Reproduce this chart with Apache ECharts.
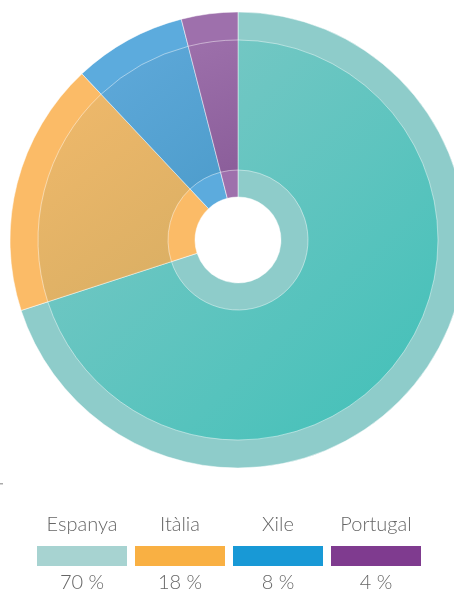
<!DOCTYPE html>
<html>
<head>
<meta charset="utf-8">
<script src="https://cdn.jsdelivr.net/npm/echarts@6/dist/echarts.min.js"></script>
<style>
  html, body { margin: 0; padding: 0; background: #fff; }
  #chart { width: 454px; height: 592px; }
</style>
</head>
<body>
<div id="chart"></div>
<script>
// dades
var categories = ['Espanya', 'Itàlia', 'Xile', 'Portugal'];
var values = [70, 18, 8, 4];
var pctLabels = ['70 %', '18 %', '8 %', '4 %'];

// colors
var ringColors = ['#8ECCCA', '#FBBB67', '#5CABDD', '#9E70AC'];
var gradTop = ['#82C9C7', '#F0B96B', '#5FA9DA', '#9D70AB'];
var gradBottom = ['#40C0B8', '#D8AE63', '#4E9DCC', '#8B5E9A'];
var legendColors = ['#A7D3D1', '#F9B043', '#1899D6', '#7F3B8F'];

var chart = echarts.init(document.getElementById('chart'), null, { renderer: 'canvas' });

var ringData = categories.map(function (c, i) {
  return { name: c, value: values[i], itemStyle: { color: ringColors[i] } };
});
var innerData = categories.map(function (c, i) {
  return {
    name: c,
    value: values[i],
    itemStyle: {
      color: new echarts.graphic.LinearGradient(0, 0, 1, 1, [
        { offset: 0, color: gradTop[i] },
        { offset: 1, color: gradBottom[i] }
      ])
    }
  };
});

var graphics = [];
categories.forEach(function (c, i) {
  var x = 37 + i * 98;
  graphics.push({
    type: 'rect',
    shape: { x: x, y: 546, width: 90, height: 20 },
    style: { fill: legendColors[i] }
  });
  graphics.push({
    type: 'text',
    x: x + 45, y: 525,
    style: {
      text: c, fill: '#666', font: '300 20px Lato',
      textAlign: 'center', textVerticalAlign: 'middle'
    }
  });
  graphics.push({
    type: 'text',
    x: x + 45, y: 583,
    style: {
      text: pctLabels[i], fill: '#666', font: '300 20px Lato',
      textAlign: 'center', textVerticalAlign: 'middle'
    }
  });
});
// petita marca a l'esquerra
graphics.push({
  type: 'rect',
  shape: { x: 0, y: 483, width: 3, height: 1.5 },
  style: { fill: '#aaa' }
});

var option = {
  animation: false,
  graphic: graphics,
  series: [
    {
      type: 'pie',
      center: [238, 240],
      radius: [43, 228],
      startAngle: 90,
      clockwise: true,
      label: { show: false },
      labelLine: { show: false },
      silent: true,
      itemStyle: { borderColor: 'rgba(255,255,255,0.5)', borderWidth: 1 },
      data: ringData
    },
    {
      type: 'pie',
      center: [238, 240],
      radius: [70, 200],
      startAngle: 90,
      clockwise: true,
      label: { show: false },
      labelLine: { show: false },
      silent: true,
      itemStyle: { borderColor: 'rgba(255,255,255,0.45)', borderWidth: 1 },
      data: innerData
    }
  ]
};

chart.setOption(option);
</script>
</body>
</html>
